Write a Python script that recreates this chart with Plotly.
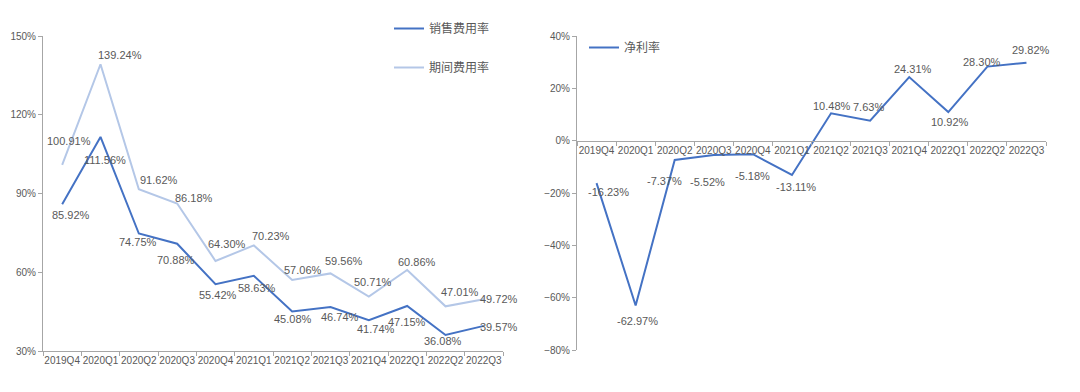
import plotly.graph_objects as go

quarters = ["2019Q4", "2020Q1", "2020Q2", "2020Q3", "2020Q4", "2021Q1",
            "2021Q2", "2021Q3", "2021Q4", "2022Q1", "2022Q2", "2022Q3"]
sales_rate = [85.92, 111.56, 74.75, 70.88, 55.42, 58.63, 45.08, 46.74, 41.74, 47.15, 36.08, 39.57]
period_rate = [100.91, 139.24, 91.62, 86.18, 64.30, 70.23, 57.06, 59.56, 50.71, 60.86, 47.01, 49.72]
net_margin = [-16.23, -62.97, -7.37, -5.52, -5.18, -13.11, 10.48, 7.63, 24.31, 10.92, 28.30, 29.82]

# page has an 8px body margin; figure sized to fit inside the window
PAD = 8
W, H = 1080 - 2 * PAD, 392 - 2 * PAD
FONT = "Liberation Sans, Noto Sans CJK SC, sans-serif"
DARK = "#4472C4"
LIGHT = "#B4C7E7"
TXT = "#595959"
AX = "#A6A6A6"


def fx(px):
    return (px - PAD) / W


def fy(py):
    return 1 - (py - PAD) / H


# label offsets (pixels: dx right, dy down) relative to each point
sales_off = [(9, 11), (4, 23), (-1, 8), (-1, 16), (2, 11), (3, 12), (1, 8), (9, 10),
             (7, 9), (0, 16), (-3, 6), (15, 1)]
period_off = [(7, -24), (19, -9), (20, -9), (17, -6), (11, -17), (17, -9), (11, -10),
              (13, -12), (4, -15), (10, -8), (14, -14), (15, 0)]
net_off = [(12, 9), (2, 16), (-10, 21), (-6, 27), (0, 22), (4, 12), (1, -7), (-2, -14),
           (4, -8), (2, 10), (-5, -5), (5, -13)]

fig = go.Figure()
fig.add_trace(go.Scatter(x=quarters, y=sales_rate, mode="lines", name="销售费用率",
                         line=dict(color=DARK, width=2),
                         xaxis="x", yaxis="y", legend="legend", legendgroup="a"))
fig.add_trace(go.Scatter(x=quarters, y=period_rate, mode="lines", name="期间费用率",
                         line=dict(color=LIGHT, width=2),
                         xaxis="x", yaxis="y", legend="legend", legendgroup="b"))
fig.add_trace(go.Scatter(x=quarters, y=net_margin, mode="lines", name="净利率",
                         line=dict(color=DARK, width=2),
                         xaxis="x2", yaxis="y2", legend="legend2"))

annotations = []
for series, offs, xr, yr in [(sales_rate, sales_off, "x", "y"),
                             (period_rate, period_off, "x", "y"),
                             (net_margin, net_off, "x2", "y2")]:
    for q, v, (dx, dy) in zip(quarters, series, offs):
        annotations.append(dict(x=q, y=v, xref=xr, yref=yr, text=f"{v:.2f}%",
                                showarrow=False, xanchor="center", yanchor="middle",
                                xshift=dx, yshift=-dy,
                                font=dict(size=11, color=TXT, family=FONT)))

ld = [fx(43), fx(503)]
rd = [fx(577), fx(1046)]
yld = [fy(351), fy(36)]
yrd = [fy(350), fy(36)]
r_range = [-80, 40]
zero_pos = yrd[0] + (0 - r_range[0]) / (r_range[1] - r_range[0]) * (yrd[1] - yrd[0])

common_x = dict(type="category", tickson="boundaries", ticks="outside", ticklen=4,
                tickcolor=AX, showline=True, linecolor=AX, linewidth=1, showgrid=False,
                tickfont=dict(size=10, color=TXT, family=FONT), tickangle=0, zeroline=False,
                automargin=False)
common_y = dict(ticks="outside", ticklen=4, tickcolor=AX, showline=True, linecolor=AX,
                linewidth=1, showgrid=False, zeroline=False, ticksuffix="%", automargin=False,
                tickfont=dict(size=10, color=TXT, family=FONT))

fig.update_layout(
    width=W, height=H, margin=dict(l=0, r=0, t=0, b=0, autoexpand=False),
    paper_bgcolor="white", plot_bgcolor="white",
    font=dict(family=FONT, color=TXT),
    annotations=annotations,
    xaxis=dict(domain=ld, anchor="y", range=[-0.5, 11.5], **common_x),
    yaxis=dict(domain=yld, anchor="x", range=[30, 150], dtick=30, **common_y),
    xaxis2=dict(domain=rd, anchor="free", position=zero_pos, range=[-0.5, 11.5], **common_x),
    yaxis2=dict(domain=yrd, anchor="x2", range=r_range, dtick=20, **common_y),
    legend=dict(x=fx(389), y=fy(14), xanchor="left", yanchor="top", itemwidth=30,
                tracegroupgap=20, bgcolor="rgba(0,0,0,0)",
                font=dict(size=12, color=TXT, family=FONT)),
    legend2=dict(x=fx(584), y=fy(33), xanchor="left", yanchor="top", itemwidth=30,
                 bgcolor="rgba(0,0,0,0)", font=dict(size=12, color=TXT, family=FONT)),
)

fig.write_html("out.html")
